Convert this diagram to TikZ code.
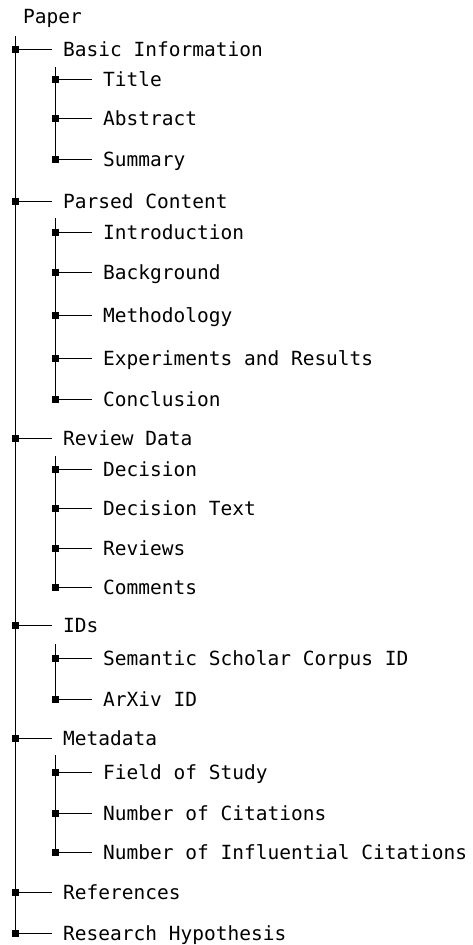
\documentclass[tikz,border=0pt]{standalone}
\usepackage{fontspec}
\newfontfamily\dvm{DejaVu Sans Mono}
\tikzset{
  mk/.style={rectangle,fill=black,draw=none,inner sep=0pt,minimum size=7pt},
  lbl/.style={anchor=west,inner sep=0pt,text height=14.2pt,text depth=0pt,font=\dvm\fontsize{19.5pt}{23pt}\selectfont},
  hline/.style={draw=black,line width=1pt},
  vline/.style={draw=black,line width=1.4pt},
}
\newcommand\branch[4]{%
  \node[mk] (m#1) at (#2,#3) {};
  \node[lbl] (t#1) at (#2+47.5,#3) {#4};
  \draw[hline] (m#1.center) -- ([xshift=-11pt]t#1.west);
}
\begin{document}
\begin{tikzpicture}[x=1pt,y=-1pt]
\useasboundingbox (0,0) rectangle (473,945);
\node[lbl] (tPaper) at (23,16) {Paper};
\coordinate (top0) at (15.5,36);
% sub-tree tops
\coordinate (topB) at (55.5,67);
\coordinate (topP) at (55.5,218);
\coordinate (topR) at (55.5,456);
\coordinate (topI) at (55.5,644);
\coordinate (topM) at (55.5,755);
% vertical lines
\coordinate (botB) at (55.5,159);
\coordinate (botP) at (55.5,399);
\coordinate (botR) at (55.5,587);
\coordinate (botI) at (55.5,699);
\coordinate (botM) at (55.5,852);
\coordinate (bot0) at (15.5,933);
\draw[vline] (top0) -- (bot0);
\draw[vline] (topB) -- (botB);
\draw[vline] (topP) -- (botP);
\draw[vline] (topR) -- (botR);
\draw[vline] (topI) -- (botI);
\draw[vline] (topM) -- (botM);
% level 1
\branch{B}{15.5}{49}{Basic Information}
\branch{P}{15.5}{201}{Parsed Content}
\branch{R}{15.5}{438}{Review Data}
\branch{I}{15.5}{625}{IDs}
\branch{M}{15.5}{738}{Metadata}
\branch{Ref}{15.5}{892}{References}
\branch{RH}{15.5}{933}{Research Hypothesis}
% level 2
\branch{Title}{55.5}{79}{Title}
\branch{Abs}{55.5}{118}{Abstract}
\branch{Sum}{55.5}{159}{Summary}
\branch{Intro}{55.5}{232}{Introduction}
\branch{Back}{55.5}{272}{Background}
\branch{Meth}{55.5}{315}{Methodology}
\branch{Exp}{55.5}{358}{Experiments and Results}
\branch{Conc}{55.5}{399}{Conclusion}
\branch{Dec}{55.5}{469}{Decision}
\branch{DecT}{55.5}{508}{Decision Text}
\branch{Rev}{55.5}{548}{Reviews}
\branch{Com}{55.5}{587}{Comments}
\branch{Sem}{55.5}{658}{Semantic Scholar Corpus ID}
\branch{Arx}{55.5}{699}{ArXiv ID}
\branch{FoS}{55.5}{772}{Field of Study}
\branch{NoC}{55.5}{813}{Number of Citations}
\branch{NoI}{55.5}{852}{Number of Influential Citations}
\end{tikzpicture}
\end{document}
